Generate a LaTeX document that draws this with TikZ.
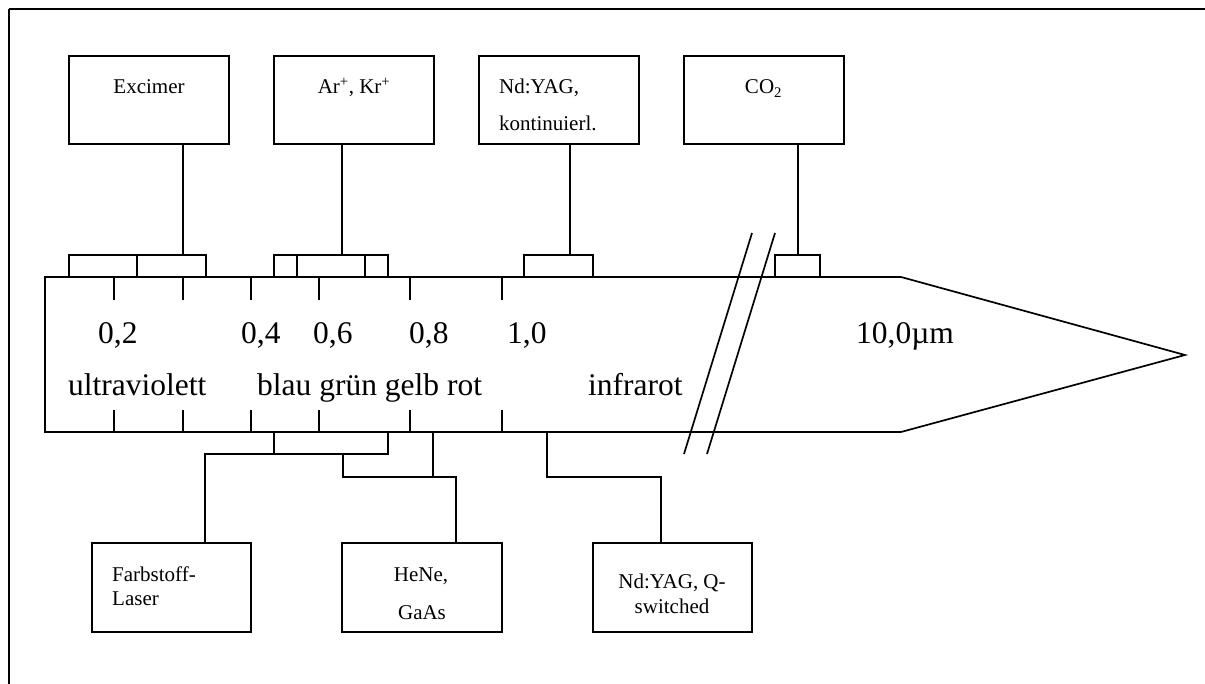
\documentclass[tikz,border=0pt]{standalone}
\usepackage{fontspec}
\setmainfont{Liberation Serif}
\begin{document}
\begin{tikzpicture}[x=1pt,y=-1pt,
  box/.style={draw,line width=2pt,minimum width=160pt,minimum height=88pt,inner sep=0pt},
  line/.style={line width=1.7pt},
  small/.style={inner sep=0pt,font=\fontsize{21}{25}\selectfont},
  big/.style={inner sep=0pt,font=\fontsize{31.5}{36}\selectfont,anchor=base west},
  brk/.style={draw,line width=1.7pt}]
\useasboundingbox (0,0) rectangle (1205,684);
% frame
\draw[line width=1.8pt] (9,684) -- (9,9);
\draw[line width=2.6pt] (9,9) -- (1205,9);
% top boxes
\node[box] (exc) at (149,100) {};
\node[box] (ar)  at (354,100) {};
\node[box] (nda) at (559,100) {};
\node[box] (co)  at (764,100) {};
\node[small,anchor=base] (excT) at (149,94) {Excimer};
\node[small,anchor=base] (arT) at (354,94) {Ar\textsuperscript{+}, Kr\textsuperscript{+}};
\node[small,anchor=base west] (ndaT1) at (499,94) {Nd:YAG,};
\node[small,anchor=base west] (ndaT2) at (499,131) {kontinuierl.};
\node[small,anchor=base] (coT) at (763.5,94) {CO\textsubscript{2}};
% bottom boxes
\node[box,minimum width=159pt,minimum height=89pt] (farb) at (171.5,587.5) {};
\node[box,minimum width=160pt,minimum height=89pt] (hene) at (422,587.5) {};
\node[box,minimum width=159pt,minimum height=89pt] (ndq)  at (672.5,587.5) {};
\node[small,anchor=base west] (farbT1) at (112,581) {Farbstoff-};
\node[small,anchor=base west] (farbT2) at (112,605) {Laser};
\node[small,anchor=base] (heneT1) at (421,581) {HeNe,};
\node[small,anchor=base] (heneT2) at (422,619) {GaAs};
\node[small,anchor=base] (ndqT1) at (672,588) {Nd:YAG, Q-};
\node[small,anchor=base] (ndqT2) at (672,613) {switched};
% spectrum body
\draw[line] (45,277) -- (901,277) -- (1185,355) -- (901,432) -- (45,432) -- cycle;
\foreach \x in {114,183,251,319,410,502}{
  \draw[line] (\x,277) -- (\x,300);
  \draw[line] (\x,410) -- (\x,432);
}
% top brackets
\draw[brk] (69,277) rectangle (206,255);
\draw[line] (137,255) -- (137,277);
\draw[brk] (274,277) rectangle (388,255);
\draw[line] (297,255) -- (297,277);
\draw[line] (365,255) -- (365,277);
\draw[brk] (524,277) rectangle (593,255);
\draw[brk] (775,277) rectangle (820,255);
% top connectors
\coordinate (b1) at (183,255);
\coordinate (b2) at (342,255);
\coordinate (b3) at (570,255);
\coordinate (b4) at (798,255);
\draw[line] (exc.south -| b1) -- (b1);
\draw[line] (ar.south -| b2) -- (b2);
\draw[line] (nda.south -| b3) -- (b3);
\draw[line] (co.south -| b4) -- (b4);
% bottom bracket and connectors
\draw[line] (274,432) -- (274,454) -- (388,454) -- (388,432);
\coordinate (f1) at (205,454);
\draw[line] (274,454) -- (f1) -- (f1 |- farb.north);
\coordinate (h1) at (456,477);
\draw[line] (343,454) -- (343,477) -- (h1) -- (h1 |- hene.north);
\draw[line] (433,432) -- (433,477);
\coordinate (q1) at (661,477);
\draw[line] (547,432) -- (547,477) -- (q1) -- (q1 |- ndq.north);
% break marks
\draw[line] (752,233) -- (684,454);
\draw[line] (775,233) -- (707,454);
% scale labels
\node[big] (l02) at (98,344) {0,2};
\node[big] (l04) at (241,344) {0,4};
\node[big] (l06) at (313,344) {0,6};
\node[big] (l08) at (409,344) {0,8};
\node[big] (l10) at (507,344) {1,0};
\node[big] (l100) at (856,344) {10,0µm};
\node[big] (uv) at (68,396) {ultraviolett};
\node[big] (vis) at (257,396) {blau grün gelb rot};
\node[big] (ir) at (588,396) {infrarot};
\end{tikzpicture}
\end{document}
